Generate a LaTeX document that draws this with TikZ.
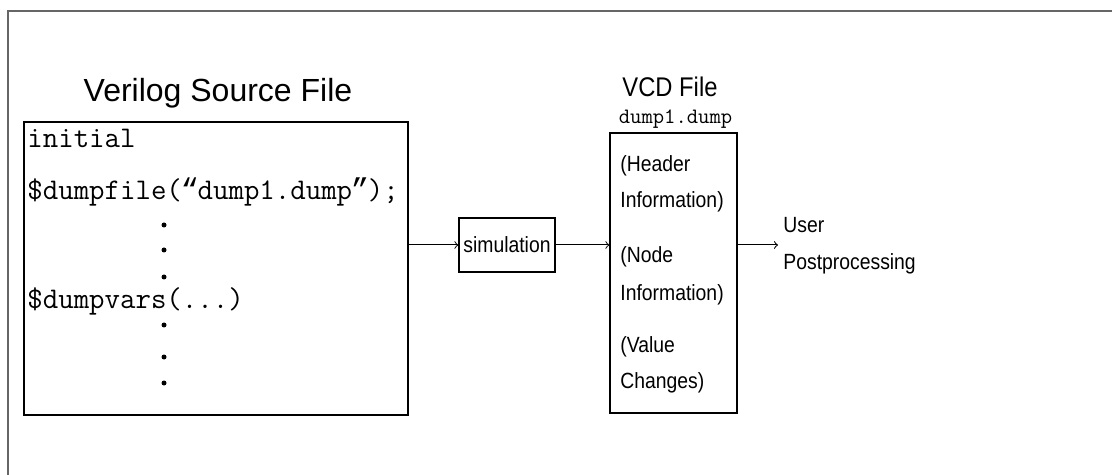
\documentclass[tikz,border=0pt]{standalone}
\usepackage{graphicx}
\usepackage{fontspec}
\setmainfont{Liberation Sans}
\newfontfamily\quotefont{Liberation Mono}
\usetikzlibrary{positioning}

% narrow the sans labels a little, as in the drawing
\newcommand{\squash}[1]{\scalebox{0.88}[1]{#1}}
% curly quote kept on the monospaced grid
\newcommand{\monoquote}[1]{\makebox[0.525em]{\quotefont #1}}

\begin{document}
\begin{tikzpicture}[x=0.5pt,y=-0.5pt,
  boxnode/.style={draw,line width=0.6pt,inner sep=0pt},
  codeline/.style={inner sep=0pt,anchor=base west,font=\ttfamily\fontsize{15}{17}\selectfont},
  infoline/.style={inner sep=0pt,anchor=base west,font=\fontsize{11}{13}\selectfont},
  flowarrow/.style={->,line width=0.5pt}]

\useasboundingbox (0,0) rectangle (1112,475);

% ---------------- outer frame (top and left edges only) ----------------
\draw[black!60,line width=1pt] (7.5,475) -- (7.5,11) -- (1112,11);

% ---------------- Verilog source box ----------------
\node[boxnode,minimum width=192pt,minimum height=146.5pt] (src) at (216,268.5) {};
\node[inner sep=0pt,anchor=base,font=\fontsize{16}{19}\selectfont] (srctitle) at (218,102) {Verilog Source File};

\node[codeline] (initline) at (27,148) {initial};
\node[codeline] (dumpfileline) at (27,200) {\$dumpfile(\monoquote{“}dump1.dump\monoquote{”});};
\node[codeline] (dumpvarsline) at (27,308) {\$dumpvars(...)};

% vertical ellipsis dots
\foreach \yy in {225,250,277,325,357,383}
  \fill (164,\yy) circle (1.25pt);

% ---------------- simulation ----------------
\node[boxnode,minimum width=48pt,minimum height=27pt,font=\fontsize{11}{13}\selectfont] (sim) at (507,245) {\squash{simulation}};

% ---------------- VCD file box ----------------
\node[boxnode,minimum width=63.5pt,minimum height=140pt] (vcd) at (673.5,273) {};
\node[inner sep=0pt,anchor=base,font=\fontsize{13.5}{16}\selectfont] (vcdtitle) at (670,97) {\squash{VCD File}};
\node[inner sep=0pt,anchor=base,font=\ttfamily\fontsize{11}{13}\selectfont] (vcdname) at (675.5,124) {dump1.dump};

\node[infoline] (hdrtop) at (620,172) {\squash{(Header}};
\node[infoline] (hdrbot) at (620,208) {\squash{Information)}};
\node[infoline] (nodetop) at (620,263) {\squash{(Node}};
\node[infoline] (nodebot) at (620,300) {\squash{Information)}};
\node[infoline] (valtop) at (620,352) {\squash{(Value}};
\node[infoline] (valbot) at (620,388) {\squash{Changes)}};

% ---------------- user postprocessing ----------------
\node[inner sep=2.5pt,anchor=west,align=left,font=\fontsize{11}{18.5}\selectfont] (user) at (778,246) {\squash{User}\\\squash{Postprocessing}};

% ---------------- connectors ----------------
\draw[flowarrow] (src.east |- sim.west) -- (sim.west);
\draw[flowarrow] (sim.east) -- (vcd.west |- sim.east);
\draw[flowarrow] (vcd.east |- sim.east) -- (user.west |- sim.east);

\end{tikzpicture}
\end{document}
